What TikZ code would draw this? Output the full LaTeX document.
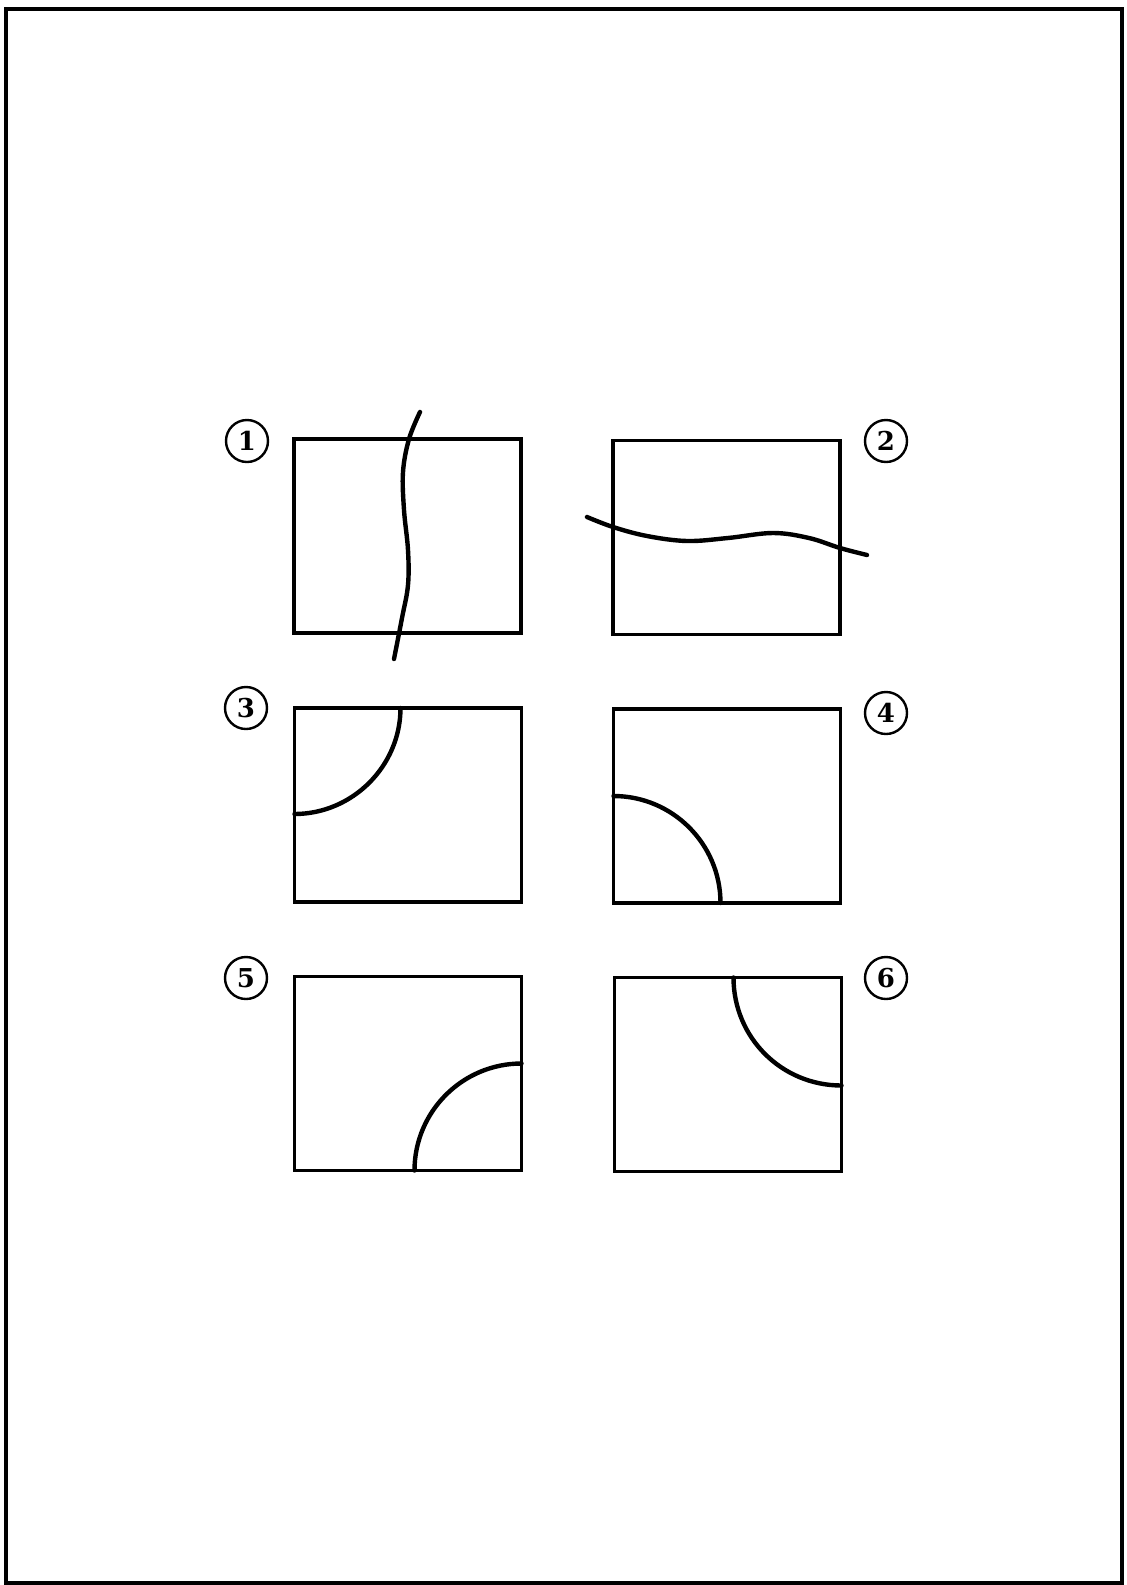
\documentclass[tikz,border=0pt]{standalone}
\usepackage{fontspec}
\usepackage{tikz}
\usetikzlibrary{calc}
\newfontfamily\tagfont{DejaVu Serif}

\begin{document}
\begin{tikzpicture}[
        x=1pt, y=-1pt,
        panel/.style={rectangle, draw, line width=3.2pt, minimum width=227pt, minimum height=194pt, inner sep=0pt, outer sep=0pt},
        tag/.style={circle, draw, line width=2.4pt, minimum size=42pt, inner sep=0pt, font=\tagfont\fontsize{26}{30}\selectfont\bfseries},
        cut/.style={line width=4.4pt, line cap=round}
      ]

      % Page frame
      \useasboundingbox (0,0) rectangle (1127,1585);
      \draw[line width=4.5pt] (6,9) rectangle (1122,1583);

      % Panels
      \node[panel] (p1) at (407.5,536) {};
      \node[panel] (p2) at (726.5,537.5) {};
      \node[panel] (p3) at (408,805) {};
      \node[panel] (p4) at (727,806) {};
      \node[panel] (p5) at (408,1073.5) {};
      \node[panel] (p6) at (728,1074.5) {};

      % Numbers
      \node[tag] (n1) at (247,441) {1};
      \node[tag] (n2) at (886,441) {2};
      \node[tag] (n3) at (246,708) {3};
      \node[tag] (n4) at (886,713) {4};
      \node[tag] (n5) at (246,978) {5};
      \node[tag] (n6) at (886,978) {6};

      % Cracks
      \draw[cut] plot[smooth, tension=0.6] coordinates {(420,412) (409,439) (403,472) (404,510) (408,550) (408,585) (402,618) (394,659)};
      \draw[cut] plot[smooth, tension=0.6] coordinates {(587,517) (613,527) (647,536) (687,541) (728,538) (773,533) (809,538) (840,548) (867,555)};

      % Corner arcs
      \draw[cut] ($(p3.north west)+(106,0)$) .. controls +(0,58) and +(58,0) .. ($(p3.north west)+(0,106)$);
      \draw[cut] ($(p4.south west)+(0,-107)$) .. controls +(59,0) and +(0,-59) .. ($(p4.south west)+(107,0)$);
      \draw[cut] ($(p5.south east)+(-107,0)$) .. controls +(0,-59) and +(-59,0) .. ($(p5.south east)+(0,-107)$);
      \draw[cut] ($(p6.north east)+(-108,0)$) .. controls +(0,60) and +(-60,0) .. ($(p6.north east)+(0,108)$);

    \end{tikzpicture}
\end{document}
